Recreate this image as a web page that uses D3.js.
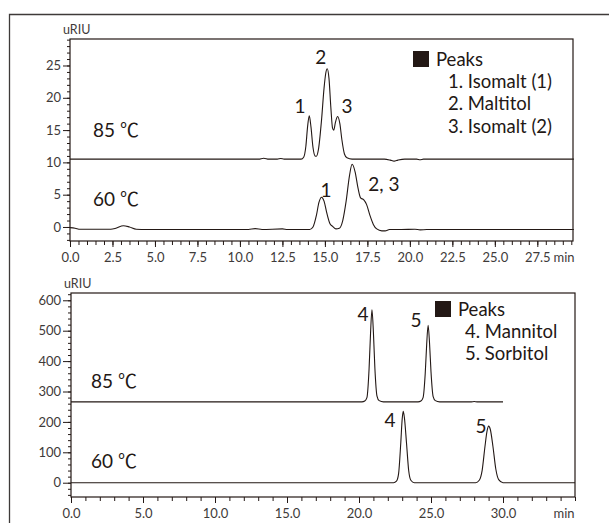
<!DOCTYPE html>
<html><head><meta charset="utf-8">
<script src="https://cdn.jsdelivr.net/npm/d3@7"></script>
<style>
body{margin:0;background:#fff}
text{font-family:Lato,'Noto Sans CJK JP',sans-serif;fill:#231815}
</style>
</head><body><svg id="c" width="609" height="523"></svg>
<script>
// ---------- DATA ----------
// Upper chromatogram: sugar alcohols (Isomalt / Maltitol)
const upperTime85 = [0, 5, 10, 11.1, 11.4, 11.7, 12.2, 12.4, 12.6, 13.4, 13.6, 13.75, 13.88, 13.98, 14.08, 14.18, 14.3, 14.42, 14.5, 14.62, 14.8, 14.95, 15.05, 15.14, 15.24, 15.35, 15.45, 15.52, 15.62, 15.75, 15.88, 16.0, 16.15, 16.3, 16.6, 18.5, 18.85, 19.07, 19.3, 19.7, 20.4, 20.6, 20.8, 29.65];
const upperValue85 = [10.5, 10.5, 10.5, 10.5, 10.65, 10.5, 10.5, 10.6, 10.5, 10.5, 10.5, 10.8, 12.5, 15.5, 17.2, 15.5, 12.3, 11.0, 10.95, 12.0, 16.5, 21.5, 23.8, 24.5, 23.0, 18.5, 15.3, 15.0, 16.2, 17.1, 16.0, 13.5, 11.3, 10.7, 10.5, 10.5, 10.35, 10.2, 10.35, 10.5, 10.5, 10.4, 10.5, 10.5];
const upperTime60 = [0, 0.3, 0.6, 2.4, 2.7, 3.14, 3.5, 3.9, 4.5, 10.5, 10.9, 11.3, 12.5, 12.8, 14.1, 14.3, 14.5, 14.65, 14.8, 14.95, 15.1, 15.3, 15.45, 15.65, 15.85, 16.05, 16.25, 16.45, 16.6, 16.78, 16.95, 17.1, 17.29, 17.45, 17.65, 17.85, 18.05, 18.35, 18.55, 18.8, 19.5, 20.3, 20.6, 21.0, 29.65];
const upperValue60 = [-0.1, -0.2, -0.35, -0.35, -0.2, 0.2, 0.0, -0.35, -0.4, -0.4, -0.25, -0.4, -0.3, -0.4, -0.4, 0.0, 1.8, 3.8, 4.6, 4.0, 2.3, 0.5, 0.1, -0.3, -0.2, 1.0, 4.0, 8.0, 9.7, 8.5, 6.0, 4.5, 4.2, 3.5, 1.8, 0.4, -0.3, -0.6, -0.6, -0.4, -0.4, -0.35, -0.45, -0.4, -0.4];
const upperXTicks = [0, 2.5, 5, 7.5, 10, 12.5, 15, 17.5, 20, 22.5, 25, 27.5];
const upperYTicks = [0, 5, 10, 15, 20, 25];
const upperLegend = ["Peaks", "1. Isomalt (1)", "2. Maltitol", "3. Isomalt (2)"];
const upperPeakLabels = ["1", "2", "3", "1", "2, 3"];
const upperPeakLabelTime = [13.53, 14.76, 16.3, 15.06, 18.47];
const upperPeakLabelValue = [18.7, 26.3, 18.7, 5.7, 6.7];

// Lower chromatogram: Mannitol / Sorbitol
const lowerTime85 = [0, 20.2, 20.4, 20.55, 20.7, 20.8, 20.9, 21.0, 21.1, 21.25, 21.4, 21.7, 24.1, 24.3, 24.45, 24.6, 24.7, 24.8, 24.9, 25.0, 25.15, 25.3, 25.6, 27.8, 28.0, 28.2, 30.0];
const lowerValue85 = [266, 266, 269, 280, 375, 490, 569, 495, 380, 285, 270, 266, 266, 269, 280, 360, 455, 518, 458, 365, 283, 270, 266, 266, 267, 266, 266];
const lowerTime60 = [0, 22.4, 22.6, 22.75, 22.9, 23.0, 23.07, 23.15, 23.3, 23.45, 23.6, 23.85, 28.1, 28.35, 28.55, 28.75, 28.9, 29.0, 29.12, 29.3, 29.5, 29.7, 30.0, 35];
const lowerValue60 = [0, 0, 5, 30, 130, 210, 235, 215, 130, 40, 8, 0, 0, 8, 40, 120, 172, 186, 175, 120, 45, 10, 0, 0];
const lowerXTicks = [0, 5, 10, 15, 20, 25, 30];
const lowerYTicks = [0, 100, 200, 300, 400, 500, 600];
const lowerLegend = ["Peaks", "4. Mannitol", "5. Sorbitol"];
const lowerPeakLabels = ["4", "5", "4", "5"];
const lowerPeakLabelTime = [20.28, 23.96, 22.15, 28.47];
const lowerPeakLabelValue = [553, 536, 207, 187];

const tempLabels = ["85 ℃", "60 ℃"];
const upperTempValue = [15, 4.3];
const lowerTempValue = [335, 72];
const yUnit = "uRIU";
const xUnit = "min";

// ---------- DRAWING ----------
const ink = "#231815";
const svg = d3.select("#c");
svg.append("rect").attr("width", 609).attr("height", 523).attr("fill", "#fff");
// outer frame (left + top edges visible)
svg.append("path").attr("d", "M9.5,523V14.5H609").attr("fill", "none").attr("stroke", "#3e3a39").attr("stroke-width", 1.3);

function panel(cfg) {
  const x = d3.scaleLinear().domain(cfg.xDomain).range([cfg.left, cfg.right]);
  const y = d3.scaleLinear().domain(cfg.yDomain).range([cfg.bottom, cfg.top]);
  const g = svg.append("g");

  // minor ticks
  g.append("g").attr("transform", `translate(0,${cfg.bottom})`)
    .call(d3.axisBottom(x).tickValues(d3.range(cfg.xDomain[0], cfg.xDomain[1] + 1e-9, cfg.xMinor)).tickSize(4).tickFormat(""))
    .call(a => a.select(".domain").remove());
  g.append("g").attr("transform", `translate(${cfg.left},0)`)
    .call(d3.axisLeft(y).tickValues(d3.range(Math.ceil(cfg.yDomain[0] / cfg.yMinor) * cfg.yMinor, cfg.yDomain[1], cfg.yMinor)).tickSize(3).tickFormat(""))
    .call(a => a.select(".domain").remove());
  // major ticks
  const xa = g.append("g").attr("transform", `translate(0,${cfg.bottom})`)
    .call(d3.axisBottom(x).tickValues(cfg.xTicks).tickSize(6).tickPadding(6).tickFormat(d3.format(".1f")))
    .call(a => a.select(".domain").remove());
  const ya = g.append("g").attr("transform", `translate(${cfg.left},0)`)
    .call(d3.axisLeft(y).tickValues(cfg.yTicks).tickSize(cfg.yTickLen).tickPadding(2).tickFormat(d3.format("d")))
    .call(a => a.select(".domain").remove());
  [xa, ya].forEach(a => {
    a.selectAll("text").attr("font-size", 13).style("fill", "#3e3a39")
      .attr("font-family", "Lato,sans-serif");
  });
  g.selectAll(".tick line").attr("stroke", ink).attr("stroke-width", 1);

  // box
  g.append("rect").attr("x", cfg.left).attr("y", cfg.top)
    .attr("width", cfg.right - cfg.left).attr("height", cfg.bottom - cfg.top)
    .attr("fill", "none").attr("stroke", ink).attr("stroke-width", 1.2);

  // unit labels
  g.append("text").attr("x", cfg.left - 7).attr("y", cfg.top - 5).attr("font-size", 12.5)
    .style("fill", "#3e3a39").text(yUnit);
  g.append("text").attr("x", 564).attr("y", cfg.bottom + 21).attr("font-size", 13)
    .attr("text-anchor", "middle").style("fill", "#3e3a39").text(xUnit);

  // traces
  const line = d3.line().x(d => x(d[0])).y(d => y(d[1])).curve(d3.curveMonotoneX);
  cfg.traces.forEach(t => {
    g.append("path").datum(d3.zip(t[0], t[1])).attr("d", line)
      .attr("fill", "none").attr("stroke", ink).attr("stroke-width", 1.1);
  });

  // peak labels
  cfg.peakLabels.forEach((s, i) => {
    g.append("text").attr("x", x(cfg.peakTime[i])).attr("y", y(cfg.peakValue[i]))
      .attr("dy", "0.36em").attr("text-anchor", "middle").attr("font-size", 19).text(s);
  });
  // temperature labels
  tempLabels.forEach((s, i) => {
    g.append("text").attr("x", cfg.tempX).attr("y", y(cfg.tempValue[i]))
      .attr("dy", "0.36em").attr("font-size", 19).text(s);
  });
  // legend
  const L = cfg.legend;
  g.append("rect").attr("x", L.x).attr("y", L.y - 8).attr("width", 16).attr("height", 16).attr("fill", ink);
  cfg.legendText.forEach((s, i) => {
    g.append("text").attr("x", i === 0 ? L.x + 23 : L.x + L.indent)
      .attr("y", L.y + i * 22.3).attr("dy", "0.36em").attr("font-size", 18.5).text(s);
  });
}

panel({
  left: 70, right: 573, top: 39, bottom: 241,
  xDomain: [0, 29.6], yDomain: [-2.17, 29.1],
  xTicks: upperXTicks, yTicks: upperYTicks, xMinor: 0.5, yMinor: 1, yTickLen: 7,
  traces: [[upperTime85, upperValue85], [upperTime60, upperValue60]],
  peakLabels: upperPeakLabels, peakTime: upperPeakLabelTime, peakValue: upperPeakLabelValue,
  tempX: 93, tempValue: upperTempValue,
  legend: {x: 413, y: 59, indent: 35}, legendText: upperLegend
});
panel({
  left: 71, right: 575, top: 293, bottom: 497,
  xDomain: [0, 35], yDomain: [-47, 624],
  xTicks: lowerXTicks, yTicks: lowerYTicks, xMinor: 1, yMinor: 20, yTickLen: 8,
  traces: [[lowerTime85, lowerValue85], [lowerTime60, lowerValue60]],
  peakLabels: lowerPeakLabels, peakTime: lowerPeakLabelTime, peakValue: lowerPeakLabelValue,
  tempX: 91, tempValue: lowerTempValue,
  legend: {x: 435, y: 309, indent: 30}, legendText: lowerLegend
});
</script>
</body></html>
